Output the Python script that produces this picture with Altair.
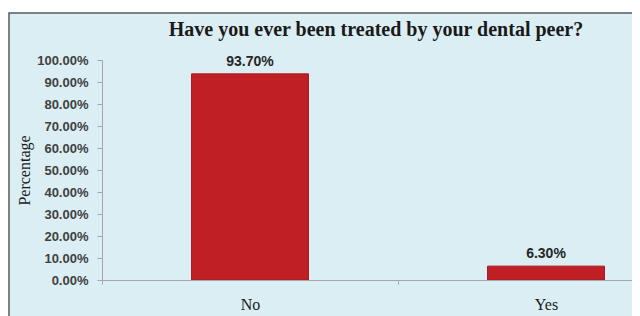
import altair as alt
import pandas as pd

categories = ["No", "Yes"]
values = [0.937, 0.063]
y_ticks = [0.0, 0.1, 0.2, 0.3, 0.4, 0.5, 0.6, 0.7, 0.8, 0.9, 1.0]

df = pd.DataFrame({"answer": categories, "pct": values})
bg = pd.DataFrame({"k": [0]})

W, H = 530, 220

x_enc = alt.X(
    "answer:N",
    sort=categories,
    scale=alt.Scale(range=[0, 592], paddingInner=0.605, paddingOuter=0.3025),
    axis=alt.Axis(
        title=None, labelAngle=0, labelFont="Liberation Serif",
        labelFontSize=16, labelColor="#1a1a1a", labelPadding=12, tickSize=4,
        tickOffset=-148, labelOffset=148,
        domainColor="#a6a6a6", tickColor="#a6a6a6", zindex=1,
    ),
)
y_enc = alt.Y(
    "pct:Q",
    scale=alt.Scale(domain=[0, 1], nice=False),
    axis=alt.Axis(
        title="Percentage", format=".2%", values=y_ticks, labelOverlap=False,
        labelFont="Liberation Sans", labelFontWeight="bold", labelFontSize=13,
        labelColor="#404040", labelPadding=9, tickSize=5, grid=False,
        domainColor="#a6a6a6", tickColor="#a6a6a6", titleFont="Liberation Serif",
        titleFontSize=16, titleFontWeight="normal", titleColor="#1a1a1a",
        titlePadding=4, zindex=1,
    ),
)

backdrop = alt.Chart(bg).mark_rect(
    fill="#daeef3", stroke="#595959", strokeWidth=1.5
).encode(
    x=alt.value(-93), x2=alt.value(W + 20), y=alt.value(-47), y2=alt.value(H + 40)
)

bars = alt.Chart(df).mark_bar(color="#c01f26", stroke="#a51a20", strokeWidth=1).encode(
    x=x_enc, y=y_enc
)

labels = alt.Chart(df).mark_text(
    font="Liberation Sans", fontWeight="bold", fontSize=14, color="#262626",
    baseline="alphabetic", dy=-8,
).encode(
    x=x_enc, y=y_enc, text=alt.Text("pct:Q", format=".2%")
)

chart = alt.layer(backdrop, bars, labels).properties(
    width=W,
    height=H,
    title=alt.TitleParams(
        "Have you ever been treated by your dental peer?",
        font="Liberation Serif", fontSize=20, fontWeight="bold", color="#1a1a1a",
        anchor="middle", dx=9, offset=-44, baseline="alphabetic", frame="group",
    ),
    autosize=alt.AutoSizeParams(type="none"),
    padding={"left": 94, "top": 52, "right": 0, "bottom": 36},
    background="white",
).configure_view(stroke=None)

chart.save("out.html", embed_options={"renderer": "svg", "actions": False})
